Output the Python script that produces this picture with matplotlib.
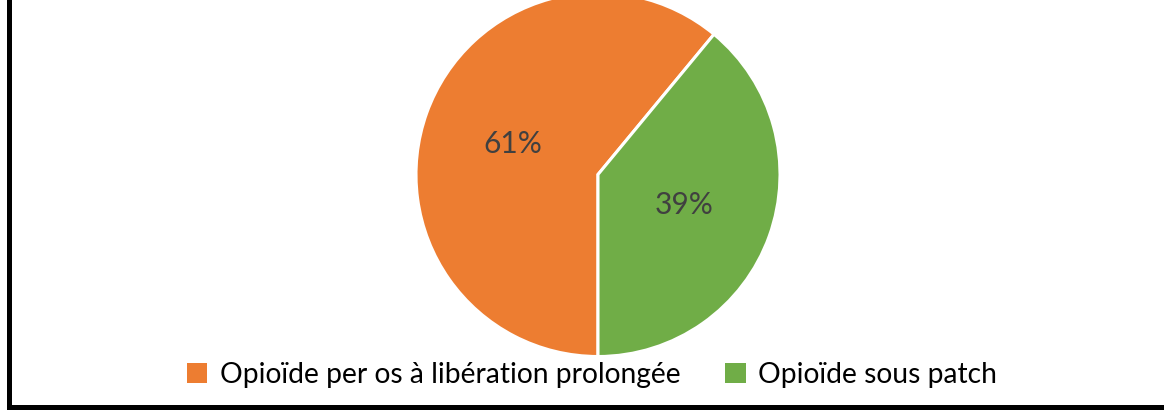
import matplotlib
matplotlib.use("Agg")
import matplotlib.pyplot as plt
from matplotlib.patches import Rectangle
from matplotlib.lines import Line2D

categories = ["Opioïde per os à libération prolongée", "Opioïde sous patch"]
values = [61, 39]
colors = ["#ED7D31", "#70AD47"]

plt.rcParams['font.family'] = ['Lato', 'DejaVu Sans']

W, H = 1164, 411
fig = plt.figure(figsize=(W / 100, H / 100), dpi=100)
fig.patch.set_facecolor("white")

cx, cy, r = 598, 174.5, 182
ax = fig.add_axes([(cx - r) / W, (H - cy - r) / H, 2 * r / W, 2 * r / H])
wedges, texts, autotexts = ax.pie(
    values, colors=colors, startangle=270, counterclock=False,
    autopct='%.0f%%', pctdistance=0.5, radius=1,
    wedgeprops=dict(edgecolor="white", linewidth=2.2),
    textprops=dict(color="#404040", fontsize=21.5))
ax.set_xlim(-1, 1)
ax.set_ylim(-1, 1)
ax.set_aspect('equal')
ax.axis('off')

handles = [Rectangle((0, 0), 1, 1, facecolor=c, edgecolor='none') for c in colors]
fig.legend(handles, categories, loc='center', bbox_to_anchor=(592 / W, (H - 375) / H),
           ncol=2, frameon=False, fontsize=20.3, handlelength=0.72, handleheight=0.72,
           handletextpad=0.45, columnspacing=1.6, labelcolor="#000000")

# outer frame (left and bottom visible)
fig.add_artist(Line2D([8.5 / W, 8.5 / W], [(H - 407) / H, 1.1], transform=fig.transFigure,
                      color="black", linewidth=3.6, solid_capstyle='projecting'))
fig.add_artist(Line2D([8.5 / W, 1.1], [(H - 407) / H, (H - 407) / H], transform=fig.transFigure,
                      color="black", linewidth=3.6, solid_capstyle='projecting'))

fig.savefig("out.png", dpi=100, facecolor="white")
